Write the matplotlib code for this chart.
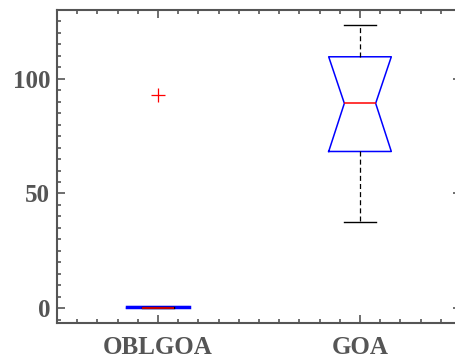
import numpy as np
import matplotlib
matplotlib.use('Agg')
import matplotlib.pyplot as plt
from matplotlib.ticker import MultipleLocator

# box statistics
labels = ['OBLGOA', 'GOA']
q1 = [0.0, 68.3]
med = [0.0, 89.3]
q3 = [0.6, 109.6]
whislo = [0.0, 37.5]
whishi = [0.6, 123.5]
fliers = [[93.0], []]

GRAY = '#555555'
plt.rcParams['font.family'] = ['Liberation Serif', 'DejaVu Serif']
plt.rcParams['font.weight'] = 'bold'

stats = []
for i in range(len(labels)):
    stats.append({'label': labels[i], 'q1': q1[i], 'med': med[i], 'q3': q3[i],
                  'whislo': whislo[i], 'whishi': whishi[i], 'fliers': fliers[i],
                  'cilo': q1[i], 'cihi': q3[i]})

fig = plt.figure(figsize=(4.55, 3.63), dpi=100)
ax = fig.add_axes([57/455, 40/363, 404/455, 313/363])

ax.bxp(stats, positions=[1, 2], widths=0.31, shownotches=True,
       boxprops=dict(color='blue', linewidth=1.1),
       medianprops=dict(color='red', linewidth=1.1),
       whiskerprops=dict(color='black', linestyle=(0, (4, 2.5)), linewidth=0.9),
       capprops=dict(color='black', linewidth=1.0),
       flierprops=dict(marker='+', markeredgecolor='red', markersize=10, markeredgewidth=0.9))

# thick blue line on the flat OBLGOA box
ax.plot([1 - 0.155, 1 + 0.155], [0.4, 0.4], color='blue', linewidth=2.5, zorder=1.5)

ax.set_xlim(0.5, 2.5)
ax.set_ylim(-6.5, 130)
ax.set_xticks([1, 2])
ax.set_xticklabels(labels)
ax.set_yticks([0, 50, 100])
ax.xaxis.set_minor_locator(MultipleLocator(0.1))
ax.yaxis.set_minor_locator(MultipleLocator(5))

for s in ax.spines.values():
    s.set_color(GRAY)
    s.set_linewidth(1.5)
ax.tick_params(which='both', direction='in', top=True, right=True, color=GRAY, width=1.2)
ax.tick_params(which='major', length=6)
ax.tick_params(which='minor', length=3)
ax.tick_params(axis='y', labelsize=18, labelcolor=GRAY, pad=5)
ax.tick_params(axis='x', labelsize=18, labelcolor=GRAY, pad=9)

fig.savefig('out.png', dpi=100)
